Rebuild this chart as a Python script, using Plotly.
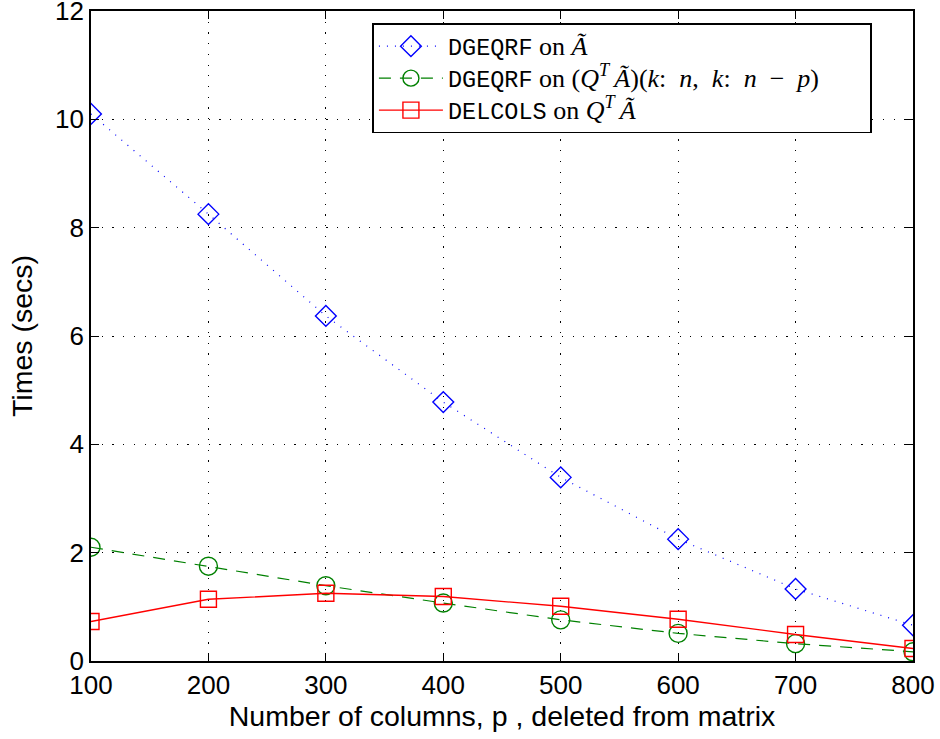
import plotly.graph_objects as go

p_cols = [100, 200, 300, 400, 500, 600, 700, 800]
t_dgeqrf_full = [10.10, 8.25, 6.37, 4.78, 3.39, 2.25, 1.33, 0.66]
t_dgeqrf_sub = [2.10, 1.75, 1.39, 1.07, 0.76, 0.51, 0.32, 0.17]
t_delcols = [0.73, 1.14, 1.25, 1.19, 1.01, 0.77, 0.49, 0.23]

x_ticks = [100, 200, 300, 400, 500, 600, 700, 800]
y_ticks = [0, 2, 4, 6, 8, 10, 12]

mono = "<span style='font-family:\"Liberation Mono\";font-size:23.5px'>"
ser = "<span style='font-size:26px'>"
sp = "\u2002"   # en space (math spacing)
th = "\u2009"   # thin space
name1 = mono + "DGEQRF</span>" + ser + " on <i>Ã</i></span>"
name2 = (mono + "DGEQRF</span>" + ser + " on (<i>Q</i><sup><i>T</i></sup>" + th + "<i>Ã</i>)(<i>k</i>:" + sp
         + "<i>n</i>," + sp + "<i>k</i>:" + sp + "<i>n</i>" + sp + "−" + sp + "<i>p</i>)"
         + "\u00a0" * 7 + "</span>")
name3 = mono + "DELCOLS</span>" + ser + " on <i>Q</i><sup><i>T</i></sup>" + th + "<i>Ã</i></span>"

fig = go.Figure()
fig.add_trace(go.Scatter(
    x=p_cols, y=t_dgeqrf_full, name=name1, mode="lines+markers",
    line=dict(color="blue", width=1.2, dash="1px,7px"),
    marker=dict(symbol="diamond-open", size=16, color="blue", line=dict(width=1.4, color="blue")),
))
fig.add_trace(go.Scatter(
    x=p_cols, y=t_dgeqrf_sub, name=name2, mode="lines+markers",
    line=dict(color="green", width=1.2, dash="12px,9px"),
    marker=dict(symbol="circle-open", size=18, color="green", line=dict(width=1.4, color="green")),
))
fig.add_trace(go.Scatter(
    x=p_cols, y=t_delcols, name=name3, mode="lines+markers",
    line=dict(color="red", width=1.4),
    marker=dict(symbol="square-open", size=16, color="red", line=dict(width=1.4, color="red")),
))

axis_common = dict(
    showline=True, linecolor="black", linewidth=1.8, mirror="ticks",
    ticks="inside", ticklen=8, tickcolor="black", tickwidth=1.2,
    showgrid=True, gridcolor="black", gridwidth=1, griddash="1.2px,9.5px",
    zeroline=False, automargin=False, ticklabeloverflow="allow",
    tickfont=dict(family="Liberation Sans", size=26, color="black"),
)

fig.update_xaxes(range=[100, 800], tickvals=x_ticks,
                 title=dict(text="Number of columns, p , deleted from matrix",
                            font=dict(family="Liberation Sans", size=28.5, color="black"), standoff=0),
                 **axis_common)
fig.update_yaxes(range=[0, 12], tickvals=y_ticks,
                 title=dict(text="Times (secs)",
                            font=dict(family="Liberation Sans", size=28.5, color="black"), standoff=14),
                 **axis_common)

fig.update_layout(
    width=940, height=739,
    margin=dict(l=91, r=27, t=11, b=78),
    paper_bgcolor="white", plot_bgcolor="white",
    showlegend=True,
    legend=dict(x=0.342, y=0.981, xanchor="left", yanchor="top",
                bgcolor="white", bordercolor="black", borderwidth=1.8,
                font=dict(family="Liberation Serif", size=22.3, color="black"),
                itemwidth=64, tracegroupgap=0),
)

fig.write_html("out.html", config={"displayModeBar": False},
               post_script="document.body.style.margin='0';")
